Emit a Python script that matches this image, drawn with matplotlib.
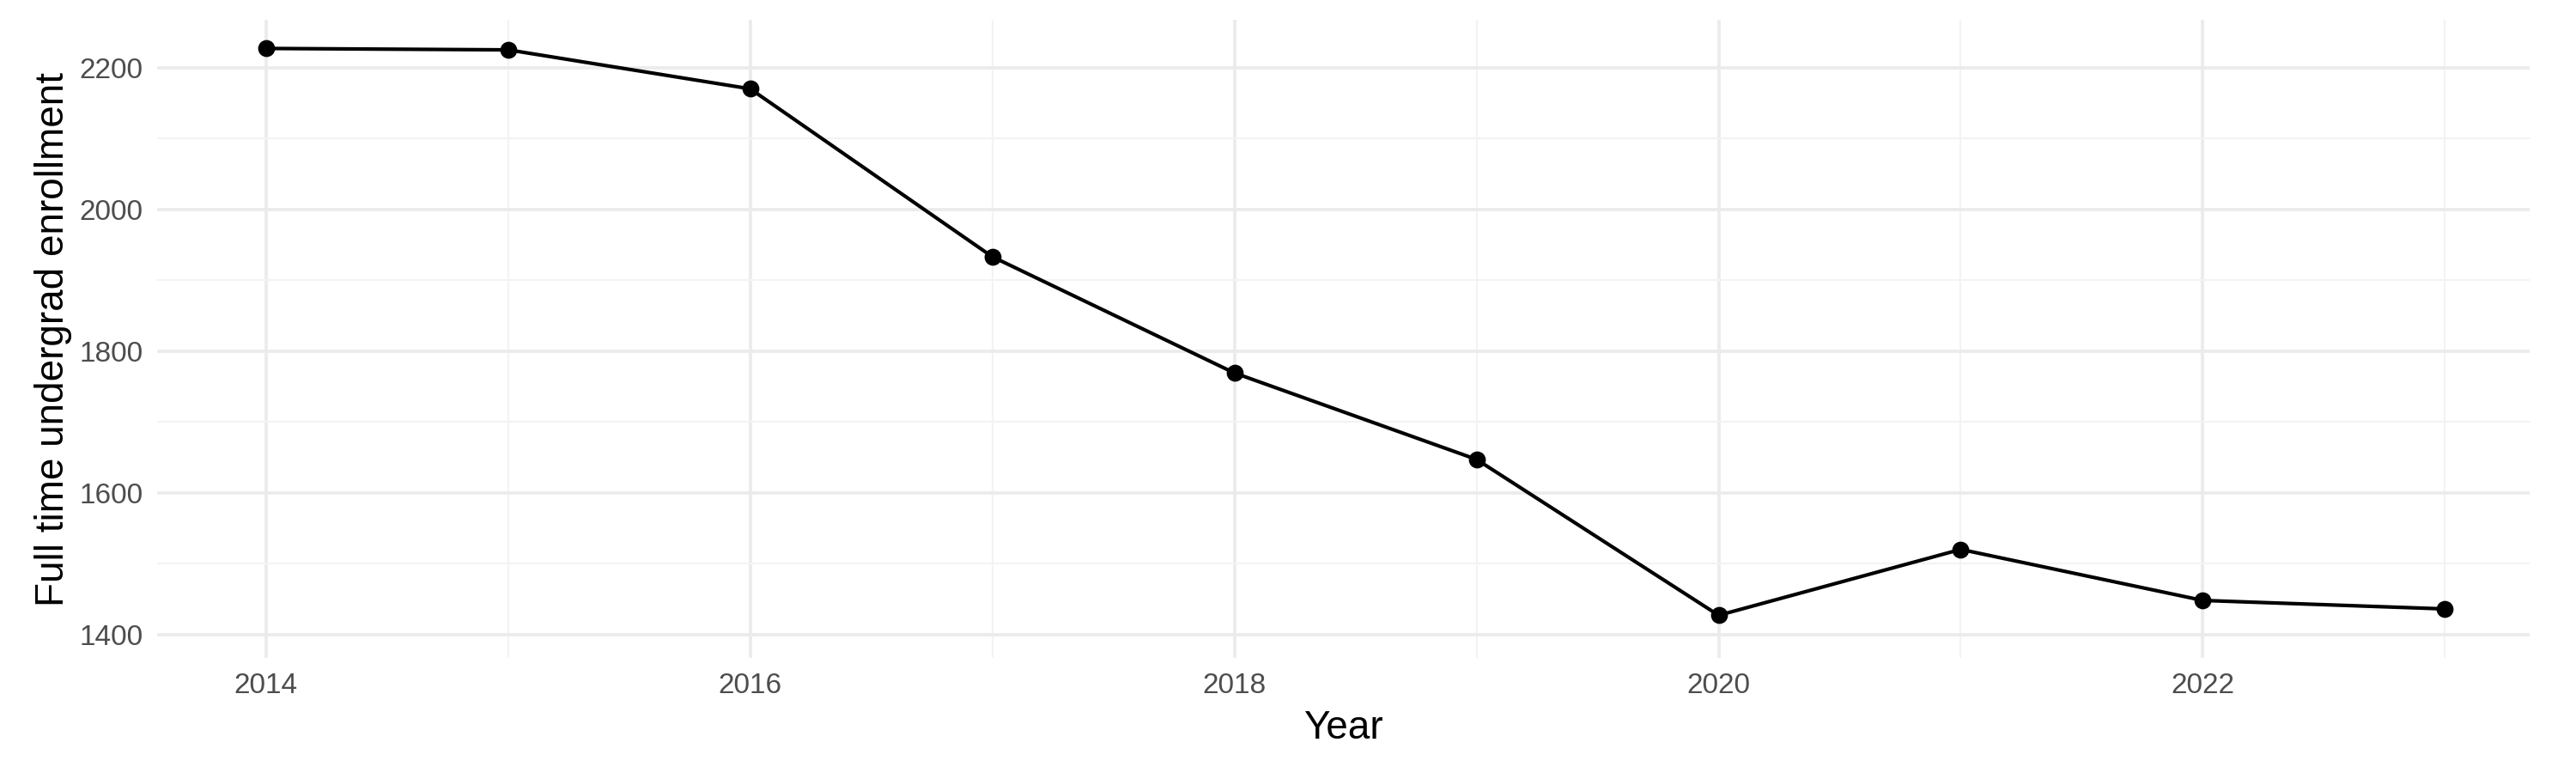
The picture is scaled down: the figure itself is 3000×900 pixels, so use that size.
import numpy as np
import matplotlib.pyplot as plt

years = [2014, 2015, 2016, 2017, 2018, 2019, 2020, 2021, 2022, 2023]
enrollment = [2227, 2225, 2170, 1933, 1769, 1647, 1427, 1520, 1448, 1436]

x_major = [2014, 2016, 2018, 2020, 2022]
x_minor = [2015, 2017, 2019, 2021, 2023]
y_major = [1400, 1600, 1800, 2000, 2200]
y_minor = [1500, 1700, 1900, 2100]

plt.rcParams['font.family'] = ['Liberation Sans', 'DejaVu Sans']

fig = plt.figure(figsize=(10, 3), dpi=300)
ax = fig.add_axes([0.061, 0.149, 0.921, 0.825])

ax.plot(years, enrollment, color="black", linewidth=1.0, zorder=3)
ax.scatter(years, enrollment, color="black", s=14, zorder=4)

ax.set_xlim(2013.55, 2023.35)
ax.set_ylim(1367, 2267)
ax.set_xticks(x_major)
ax.set_xticks(x_minor, minor=True)
ax.set_yticks(y_major)
ax.set_yticks(y_minor, minor=True)
ax.grid(True, which="major", color="#EBEBEB", linewidth=0.9)
ax.grid(True, which="minor", color="#F3F3F3", linewidth=0.5)
ax.set_axisbelow(True)
for s in ax.spines.values():
    s.set_visible(False)
ax.tick_params(which="both", length=0, labelsize=8, labelcolor="#4D4D4D", pad=4)

ax.set_xlabel("Year", fontsize=11, labelpad=3)
ax.set_ylabel("Full time undergrad enrollment", fontsize=11, labelpad=2)

fig.savefig("out.png", dpi=300, facecolor="white")
